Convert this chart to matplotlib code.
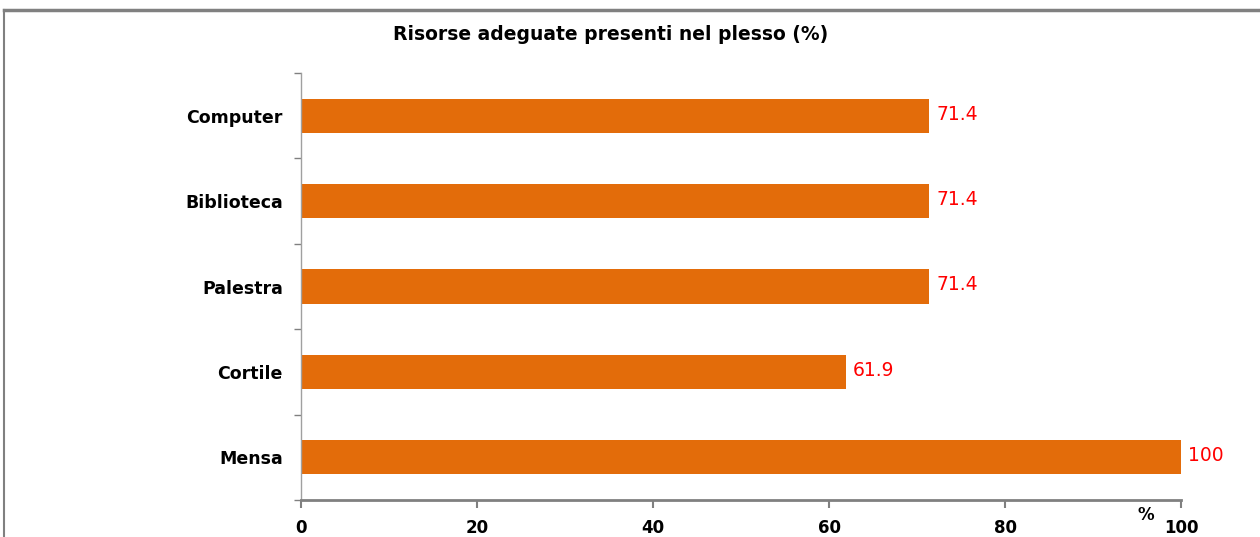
import matplotlib.pyplot as plt

categories = ['Mensa', 'Cortile', 'Palestra', 'Biblioteca', 'Computer']
values = [100, 61.9, 71.4, 71.4, 71.4]
value_labels = ['100', '61.9', '71.4', '71.4', '71.4']
x_ticks = [0, 20, 40, 60, 80, 100]

plt.rcParams['font.family'] = ['DejaVu Sans']

fig = plt.figure(figsize=(12.6, 5.37), dpi=100)
ax = fig.add_axes([0.2389, 0.0689, 0.6984, 0.7951])

# outer chart frame (top and left edges visible)
fig.add_artist(plt.Line2D([0.003, 1.0], [0.982, 0.982], color='#808080', lw=2.5,
                          transform=fig.transFigure))
fig.add_artist(plt.Line2D([0.003, 0.003], [0.0, 0.982], color='#808080', lw=1.5,
                          transform=fig.transFigure))

y = range(len(categories))
ax.barh(y, values, height=0.4, color='#E36C0A')
for i, (v, lab) in enumerate(zip(values, value_labels)):
    ax.text(v + 0.8, i + 0.02, lab, va='center', ha='left', color='#FF0000', fontsize=13.5)

ax.set_xlim(0, 100)
ax.set_ylim(-0.5, len(categories) - 0.5)
ax.set_yticks(list(y))
ax.set_yticklabels(categories, fontsize=12.5, fontweight='bold')
ax.set_yticks([i + 0.5 for i in range(-1, len(categories))], minor=True)
ax.tick_params(axis='y', which='major', length=0, pad=13)
ax.tick_params(axis='y', which='minor', length=5, color='#808080', width=1)
ax.set_xticks(x_ticks)
ax.set_xticklabels([str(t) for t in x_ticks], fontsize=12, fontweight='bold')
ax.tick_params(axis='x', length=6, width=1.5, color='#808080', pad=8)

for s in ['top', 'right']:
    ax.spines[s].set_visible(False)
ax.spines['left'].set_color('#A0A0A0')
ax.spines['left'].set_linewidth(1)
ax.spines['bottom'].set_color('#808080')
ax.spines['bottom'].set_linewidth(2)

ax.text(96, -0.68, '%', ha='center', va='center', fontsize=12, fontweight='bold')
fig.text(0.485, 0.935, 'Risorse adeguate presenti nel plesso (%)', ha='center', va='center',
         fontsize=13.5, fontweight='bold')

fig.savefig('out.png', dpi=100)
